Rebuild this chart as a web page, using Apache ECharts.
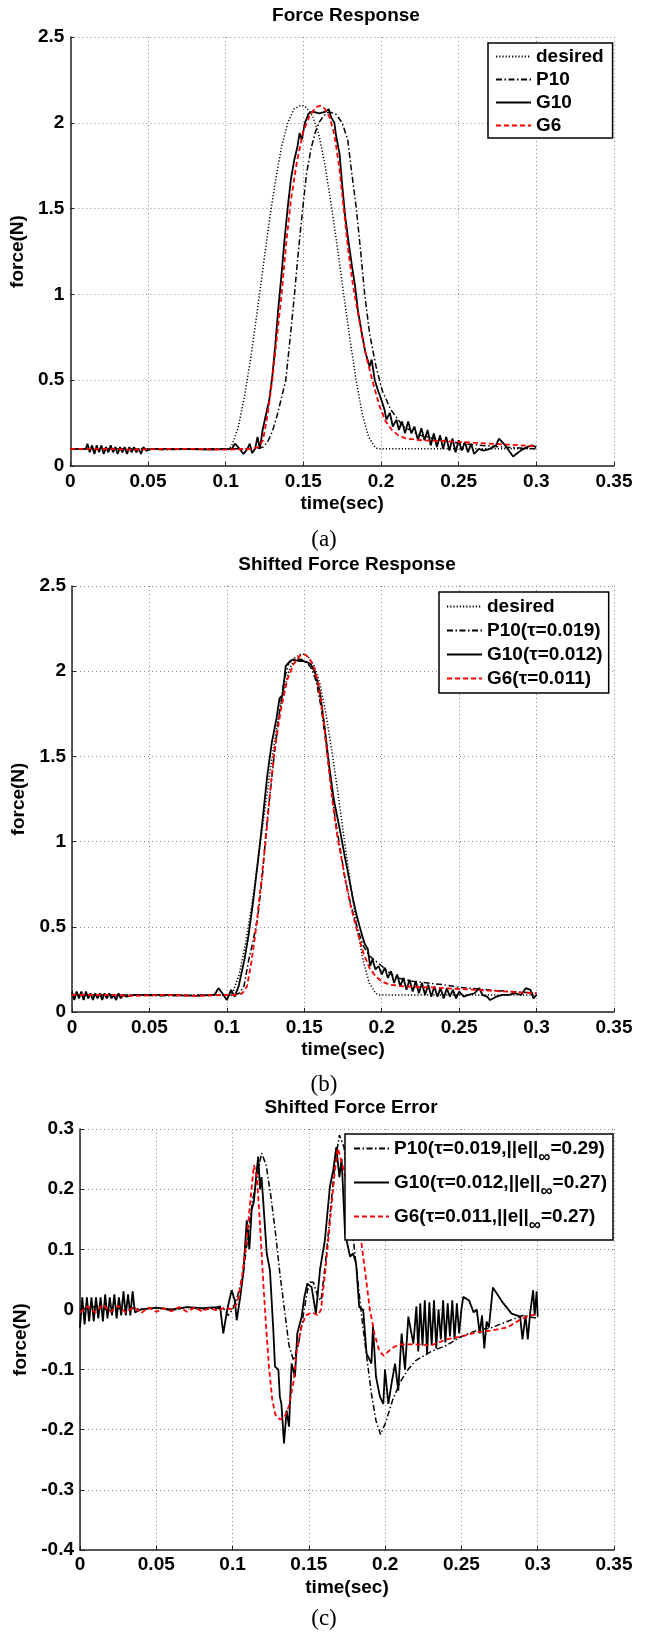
<!DOCTYPE html>
<html>
<head>
<meta charset="utf-8">
<script src="https://cdn.jsdelivr.net/npm/echarts/dist/echarts.min.js"></script>
<style>
  html, body { margin: 0; padding: 0; background: #fff; }
  #chart { width: 659px; height: 1634px; }
</style>
</head>
<body>
<div id="chart"></div>
<script>
// axis ticks
const timeTicks = { min: 0, max: 0.35, interval: 0.05 }
const forceTicks = { min: 0, max: 2.5, interval: 0.5 }
const errorTicks = { min: -0.4, max: 0.3, interval: 0.1 }

// (a) force response, [time, force]
const respDesired = [[0,0.1],[0.1,0.1],[0.102,0.1],[0.104,0.12],[0.108,0.22],[0.112,0.40],[0.116,0.62],[0.120,0.88],[0.124,1.15],[0.128,1.42],[0.132,1.66],[0.136,1.86],[0.140,2.00],[0.144,2.08],[0.148,2.10],[0.150,2.10],[0.152,2.09],[0.156,2.04],[0.160,1.93],[0.164,1.75],[0.168,1.52],[0.172,1.27],[0.176,1.00],[0.180,0.74],[0.184,0.50],[0.188,0.30],[0.192,0.17],[0.196,0.11],[0.198,0.10],[0.3,0.1]]
const respP10 = [[0,0.1],[0.03,0.1],[0.06,0.095],[0.09,0.1],[0.12,0.1],[0.124,0.11],[0.127,0.14],[0.130,0.2],[0.1333,0.3],[0.136,0.4],[0.1387,0.5],[0.141,0.7],[0.144,0.97],[0.146,1.17],[0.148,1.36],[0.150,1.53],[0.152,1.70],[0.155,1.85],[0.1576,1.94],[0.160,2.0],[0.163,2.04],[0.1657,2.06],[0.168,2.06],[0.171,2.05],[0.175,2.0],[0.1786,1.9],[0.181,1.72],[0.184,1.51],[0.1868,1.26],[0.1895,1.0],[0.1927,0.77],[0.1968,0.58],[0.2008,0.44],[0.2062,0.33],[0.2143,0.23],[0.225,0.18],[0.2386,0.15],[0.252,0.13],[0.279,0.11],[0.3,0.1]]
const respG10 = [[0,0.1],[0.01,0.1],[0.011,0.13],[0.0125,0.08],[0.014,0.12],[0.0155,0.07],[0.017,0.12],[0.0185,0.08],[0.02,0.12],[0.0215,0.07],[0.023,0.11],[0.0245,0.08],[0.026,0.12],[0.0275,0.08],[0.029,0.11],[0.0305,0.07],[0.032,0.11],[0.0335,0.08],[0.035,0.11],[0.0365,0.07],[0.038,0.11],[0.0395,0.08],[0.041,0.11],[0.0425,0.08],[0.044,0.1],[0.0455,0.07],[0.047,0.11],[0.049,0.09],[0.052,0.1],[0.07,0.1],[0.09,0.095],[0.104,0.1],[0.106,0.13],[0.109,0.1],[0.1115,0.07],[0.114,0.1],[0.1155,0.13],[0.117,0.075],[0.119,0.1],[0.1205,0.17],[0.122,0.1],[0.1238,0.21],[0.1257,0.29],[0.128,0.38],[0.130,0.52],[0.1319,0.70],[0.1338,0.91],[0.136,1.12],[0.1379,1.32],[0.140,1.51],[0.142,1.67],[0.1441,1.78],[0.1462,1.86],[0.1476,1.94],[0.149,1.90],[0.151,2.0],[0.1535,2.055],[0.156,2.065],[0.1603,2.055],[0.1644,2.065],[0.1663,2.08],[0.168,2.03],[0.170,2.0],[0.171,1.93],[0.1733,1.82],[0.1751,1.63],[0.177,1.45],[0.1792,1.30],[0.1814,1.16],[0.1833,1.05],[0.1851,0.91],[0.1873,0.79],[0.190,0.66],[0.1927,0.58],[0.194,0.62],[0.196,0.50],[0.1981,0.44],[0.2003,0.385],[0.2022,0.33],[0.2035,0.27],[0.2057,0.31],[0.2076,0.23],[0.210,0.27],[0.2115,0.21],[0.2135,0.26],[0.2155,0.19],[0.2175,0.26],[0.2195,0.19],[0.2215,0.23],[0.2238,0.15],[0.226,0.22],[0.228,0.15],[0.230,0.21],[0.232,0.12],[0.234,0.19],[0.236,0.11],[0.238,0.18],[0.240,0.10],[0.242,0.17],[0.244,0.09],[0.246,0.16],[0.248,0.08],[0.250,0.15],[0.252,0.09],[0.254,0.14],[0.256,0.08],[0.258,0.13],[0.260,0.07],[0.263,0.1],[0.266,0.09],[0.27,0.1],[0.274,0.12],[0.276,0.16],[0.28,0.12],[0.285,0.055],[0.29,0.09],[0.294,0.11],[0.297,0.12],[0.3,0.11]]
const respG6 = [[0,0.1],[0.02,0.1],[0.04,0.095],[0.06,0.1],[0.08,0.1],[0.1,0.095],[0.116,0.1],[0.121,0.11],[0.124,0.15],[0.127,0.30],[0.130,0.50],[0.133,0.75],[0.136,1.00],[0.139,1.30],[0.142,1.55],[0.146,1.78],[0.150,1.95],[0.154,2.04],[0.158,2.09],[0.161,2.10],[0.164,2.08],[0.167,2.03],[0.170,1.93],[0.173,1.75],[0.176,1.50],[0.179,1.25],[0.182,1.05],[0.185,0.90],[0.188,0.75],[0.191,0.62],[0.195,0.48],[0.199,0.35],[0.203,0.26],[0.207,0.21],[0.211,0.18],[0.216,0.16],[0.226,0.15],[0.241,0.145],[0.261,0.135],[0.281,0.125],[0.3,0.115]]

// (b) shifted force response
const shiftP10 = [[0,0.1],[0.03,0.1],[0.06,0.095],[0.09,0.1],[0.105,0.1],[0.108,0.11],[0.111,0.15],[0.114,0.3],[0.117,0.42],[0.120,0.56],[0.123,0.8],[0.125,1.03],[0.128,1.29],[0.131,1.54],[0.134,1.76],[0.137,1.95],[0.140,2.05],[0.144,2.07],[0.148,2.07],[0.152,2.05],[0.155,2.01],[0.158,1.93],[0.161,1.78],[0.164,1.58],[0.167,1.36],[0.170,1.13],[0.173,0.97],[0.176,0.8],[0.180,0.63],[0.184,0.50],[0.188,0.39],[0.192,0.33],[0.196,0.30],[0.2,0.27],[0.205,0.23],[0.21,0.2],[0.215,0.19],[0.22,0.18],[0.23,0.17],[0.24,0.16],[0.25,0.145],[0.275,0.125],[0.3,0.11]]
const shiftG10 = [[0,0.12],[0.0015,0.07],[0.003,0.12],[0.0045,0.08],[0.006,0.12],[0.0075,0.07],[0.009,0.12],[0.0105,0.08],[0.012,0.11],[0.0135,0.07],[0.015,0.11],[0.0165,0.08],[0.018,0.11],[0.0195,0.07],[0.021,0.11],[0.0225,0.08],[0.024,0.11],[0.0255,0.08],[0.027,0.1],[0.0285,0.07],[0.03,0.11],[0.0315,0.08],[0.033,0.1],[0.035,0.09],[0.04,0.1],[0.06,0.1],[0.08,0.095],[0.092,0.1],[0.0946,0.14],[0.097,0.11],[0.1,0.07],[0.1027,0.13],[0.105,0.09],[0.1076,0.15],[0.1095,0.23],[0.1114,0.31],[0.114,0.45],[0.117,0.65],[0.12,0.88],[0.123,1.12],[0.126,1.38],[0.129,1.58],[0.132,1.72],[0.134,1.84],[0.136,1.86],[0.138,2.03],[0.1408,2.06],[0.143,2.07],[0.146,2.06],[0.149,2.06],[0.1525,2.05],[0.1543,2.04],[0.157,1.99],[0.160,1.88],[0.163,1.68],[0.166,1.45],[0.169,1.25],[0.1734,1.05],[0.176,0.92],[0.179,0.78],[0.1815,0.66],[0.184,0.56],[0.187,0.46],[0.189,0.40],[0.191,0.37],[0.1925,0.27],[0.194,0.31],[0.196,0.25],[0.198,0.27],[0.2,0.22],[0.202,0.26],[0.204,0.2],[0.206,0.24],[0.208,0.17],[0.21,0.22],[0.212,0.15],[0.214,0.2],[0.216,0.13],[0.218,0.19],[0.22,0.12],[0.222,0.18],[0.224,0.11],[0.226,0.17],[0.228,0.1],[0.23,0.16],[0.232,0.09],[0.234,0.15],[0.236,0.09],[0.238,0.14],[0.24,0.08],[0.242,0.14],[0.244,0.09],[0.246,0.13],[0.248,0.08],[0.25,0.12],[0.253,0.09],[0.256,0.1],[0.26,0.11],[0.263,0.14],[0.265,0.1],[0.268,0.09],[0.27,0.07],[0.274,0.09],[0.278,0.1],[0.282,0.1],[0.286,0.11],[0.29,0.1],[0.293,0.14],[0.296,0.13],[0.298,0.08],[0.3,0.1]]
const shiftG6 = [[0,0.1],[0.02,0.1],[0.04,0.095],[0.06,0.1],[0.08,0.095],[0.1,0.1],[0.105,0.1],[0.110,0.11],[0.113,0.15],[0.116,0.30],[0.119,0.50],[0.122,0.75],[0.125,1.00],[0.128,1.30],[0.131,1.55],[0.135,1.78],[0.139,1.95],[0.143,2.04],[0.147,2.09],[0.150,2.10],[0.153,2.08],[0.156,2.03],[0.159,1.93],[0.162,1.75],[0.165,1.50],[0.168,1.25],[0.171,1.05],[0.174,0.90],[0.177,0.75],[0.180,0.62],[0.184,0.48],[0.188,0.35],[0.192,0.26],[0.196,0.21],[0.200,0.18],[0.205,0.16],[0.215,0.15],[0.230,0.145],[0.250,0.135],[0.270,0.125],[0.290,0.115],[0.3,0.11]]

// (c) shifted force error
const errP10 = [[0,0],[0.01,0.005],[0.02,-0.002],[0.03,0.004],[0.04,0.0],[0.05,0.003],[0.06,-0.002],[0.07,0.004],[0.08,0.0],[0.09,0.002],[0.095,0.0],[0.097,-0.01],[0.1,0.0],[0.103,0.02],[0.107,0.06],[0.11,0.12],[0.113,0.18],[0.116,0.22],[0.119,0.26],[0.122,0.24],[0.125,0.19],[0.128,0.13],[0.131,0.06],[0.134,0.0],[0.137,-0.06],[0.14,-0.085],[0.143,-0.06],[0.147,0.0],[0.15,0.045],[0.153,0.045],[0.156,0.02],[0.158,0.015],[0.161,0.08],[0.164,0.16],[0.167,0.24],[0.170,0.29],[0.173,0.27],[0.176,0.2],[0.179,0.12],[0.182,0.05],[0.185,-0.02],[0.188,-0.08],[0.191,-0.14],[0.194,-0.185],[0.197,-0.208],[0.2,-0.19],[0.205,-0.15],[0.21,-0.12],[0.215,-0.1],[0.22,-0.085],[0.23,-0.07],[0.24,-0.06],[0.25,-0.045],[0.26,-0.035],[0.27,-0.03],[0.28,-0.02],[0.29,-0.01],[0.3,-0.015]]
const errG10 = [[0,-0.03],[0.0015,0.02],[0.003,-0.025],[0.0045,0.02],[0.006,-0.02],[0.0075,0.02],[0.009,-0.02],[0.0105,0.02],[0.012,-0.015],[0.0135,0.02],[0.015,-0.02],[0.0165,0.025],[0.018,-0.015],[0.0195,0.02],[0.021,-0.01],[0.0225,0.025],[0.024,-0.015],[0.0255,0.02],[0.027,-0.01],[0.0285,0.03],[0.03,-0.01],[0.0315,0.025],[0.033,-0.01],[0.0345,0.03],[0.036,-0.005],[0.04,0.0],[0.05,0.003],[0.06,0.0],[0.07,0.004],[0.08,0.002],[0.09,0.004],[0.0918,0.005],[0.0939,-0.04],[0.0965,0.0],[0.0994,0.032],[0.1015,0.015],[0.1027,-0.018],[0.105,0.02],[0.107,0.06],[0.1093,0.148],[0.111,0.1],[0.1125,0.165],[0.114,0.18],[0.1158,0.23],[0.1168,0.254],[0.118,0.2],[0.119,0.22],[0.1202,0.176],[0.1224,0.093],[0.1245,0.065],[0.1267,-0.034],[0.1278,-0.095],[0.13,-0.1],[0.131,-0.145],[0.132,-0.157],[0.1337,-0.223],[0.1354,-0.168],[0.137,-0.195],[0.1387,-0.09],[0.1409,-0.112],[0.1424,-0.04],[0.1453,-0.012],[0.147,0.02],[0.149,0.043],[0.1518,0.037],[0.1546,-0.007],[0.1557,0.022],[0.1573,0.066],[0.1605,0.115],[0.1638,0.204],[0.166,0.232],[0.168,0.27],[0.17,0.22],[0.1715,0.25],[0.1737,0.127],[0.177,0.088],[0.179,0.093],[0.181,0.076],[0.183,0.004],[0.1856,-0.001],[0.1878,-0.073],[0.191,-0.09],[0.192,-0.029],[0.194,-0.112],[0.1966,-0.145],[0.1988,-0.157],[0.1999,-0.1],[0.2021,-0.157],[0.2042,-0.123],[0.2065,-0.09],[0.2086,-0.135],[0.2108,-0.04],[0.213,-0.1],[0.2152,-0.012],[0.2185,-0.057],[0.2205,0.005],[0.2217,-0.07],[0.223,0.01],[0.2245,-0.06],[0.226,0.015],[0.2275,-0.075],[0.229,0.012],[0.2305,-0.06],[0.232,0.015],[0.2335,-0.065],[0.235,0.0],[0.2365,-0.05],[0.238,0.015],[0.2395,-0.055],[0.241,0.01],[0.2425,-0.045],[0.244,0.015],[0.2455,-0.05],[0.247,0.01],[0.2485,-0.04],[0.25,0.0],[0.2512,0.021],[0.255,0.015],[0.258,-0.005],[0.26,0.0],[0.262,-0.04],[0.2635,-0.01],[0.265,-0.065],[0.2665,-0.02],[0.268,-0.03],[0.2706,0.0365],[0.2775,0.01],[0.2829,-0.007],[0.2885,-0.012],[0.29,-0.05],[0.292,-0.01],[0.2935,-0.05],[0.295,-0.007],[0.297,0.032],[0.298,-0.01],[0.2993,0.03],[0.3,-0.012]]
const errG6 = [[0,-0.005],[0.005,0.005],[0.01,-0.005],[0.015,0.008],[0.02,-0.004],[0.025,0.006],[0.03,-0.005],[0.035,0.004],[0.04,-0.006],[0.045,0.003],[0.05,-0.004],[0.055,0.002],[0.06,-0.003],[0.065,0.004],[0.07,-0.004],[0.075,0.003],[0.08,-0.003],[0.085,0.002],[0.09,-0.002],[0.095,0.003],[0.1,0.0],[0.103,0.01],[0.106,0.05],[0.109,0.11],[0.112,0.19],[0.114,0.24],[0.116,0.22],[0.118,0.14],[0.120,0.05],[0.122,-0.03],[0.124,-0.1],[0.126,-0.15],[0.128,-0.175],[0.131,-0.183],[0.134,-0.18],[0.137,-0.16],[0.14,-0.12],[0.142,-0.07],[0.145,-0.03],[0.148,-0.01],[0.152,-0.005],[0.156,-0.01],[0.158,0.0],[0.161,0.07],[0.164,0.15],[0.167,0.23],[0.169,0.268],[0.172,0.24],[0.175,0.21],[0.178,0.19],[0.181,0.165],[0.184,0.12],[0.187,0.06],[0.19,0.0],[0.193,-0.04],[0.196,-0.068],[0.199,-0.077],[0.202,-0.07],[0.206,-0.062],[0.21,-0.058],[0.22,-0.058],[0.23,-0.06],[0.24,-0.05],[0.25,-0.045],[0.26,-0.038],[0.27,-0.035],[0.28,-0.03],[0.29,-0.015],[0.295,-0.01],[0.3,-0.008]]

const FONT = '"Liberation Sans", Arial, Helvetica, sans-serif'
const SERIF = '"Liberation Serif", "Times New Roman", serif'

// line styles, MATLAB look
const styleDesired = { color: '#000', width: 1.5, type: [1.2, 2] }
const styleP10 = { color: '#000', width: 1.5, type: [6, 2.5, 1.5, 2.5] }
const styleG10 = { color: '#000', width: 1.8, type: 'solid' }
const styleG6 = { color: '#ff0000', width: 1.8, type: [5, 3] }

let grids = [
  { left: 70, top: 37, width: 544, height: 429 },
  { left: 72, top: 586, width: 542, height: 426 },
  { left: 80, top: 1129, width: 534, height: 421 }
]

function xAxis(i, margin) {
  return {
    type: 'value', gridIndex: i,
    min: timeTicks.min, max: timeTicks.max, interval: timeTicks.interval,
    name: 'time(sec)', nameLocation: 'middle', nameGap: 28,
    nameTextStyle: { fontFamily: FONT, fontSize: 19, fontWeight: 'bold', color: '#000' },
    axisLine: { show: true, onZero: false, lineStyle: { color: '#222', width: 1.5 } },
    axisTick: { show: true, inside: true, length: 4, lineStyle: { color: '#222' } },
    axisLabel: { margin: margin, fontFamily: FONT, fontSize: 19, fontWeight: 'bold', color: '#000' },
    splitLine: { show: true, lineStyle: { color: '#888', width: 1, type: [1, 3] } }
  }
}

function yAxis(i, ticks, gap) {
  return {
    type: 'value', gridIndex: i,
    min: ticks.min, max: ticks.max, interval: ticks.interval,
    name: 'force(N)', nameLocation: 'middle', nameGap: gap,
    nameTextStyle: { fontFamily: FONT, fontSize: 19, fontWeight: 'bold', color: '#000' },
    axisLine: { show: true, onZero: false, lineStyle: { color: '#222', width: 1.5 } },
    axisTick: { show: true, inside: true, length: 4, lineStyle: { color: '#222' } },
    axisLabel: { margin: 6, fontFamily: FONT, fontSize: 19, fontWeight: 'bold', color: '#000' },
    splitLine: { show: true, lineStyle: { color: '#888', width: 1, type: [1, 3] } }
  }
}

function line(name, data, style, i) {
  return {
    type: 'line', name: name, data: data, xAxisIndex: i, yAxisIndex: i,
    symbol: 'none', silent: true, animation: false,
    lineStyle: style, itemStyle: { color: style.color }
  }
}

// legend: line samples only, no symbol
let legendBase = {
  orient: 'vertical', selectedMode: false,
  backgroundColor: '#fff', borderColor: '#000', borderWidth: 1.5,
  itemWidth: 35, itemHeight: 14,
  itemStyle: { opacity: 0 },
  textStyle: { fontFamily: FONT, fontSize: 19, fontWeight: 'bold', color: '#000' }
}

let errNames = ['P10(τ=0.019,||e||∞=0.29)', 'G10(τ=0.012,||e||∞=0.27)', 'G6(τ=0.011,||e||∞=0.27)']

function caption(text, x, y, font) {
  return { type: 'text', x: x, y: y, style: { text: text, font: font, fill: '#000', align: 'center', verticalAlign: 'middle' } }
}

let option = {
  animation: false,
  backgroundColor: '#fff',
  grid: grids,
  xAxis: [xAxis(0, 6), xAxis(1, 6), xAxis(2, 5)],
  yAxis: [yAxis(0, forceTicks, 30), yAxis(1, forceTicks, 30), yAxis(2, errorTicks, 35)],
  legend: [
    Object.assign({}, legendBase, {
      left: 488, top: 43, padding: [4, 9, 3, 7], itemGap: 4,
      data: ['desired', 'P10', 'G10', 'G6']
    }),
    Object.assign({}, legendBase, {
      left: 439, top: 592, padding: [5, 6, 5, 7], itemGap: 5,
      data: ['desired', 'P10(τ=0.019)', 'G10(τ=0.012)', 'G6(τ=0.011)']
    }),
    Object.assign({}, legendBase, {
      left: 345, top: 1134, padding: [5, 6, 6, 8], itemGap: 7,
      data: errNames,
      formatter: function (name) {
        let k = name.indexOf('∞')
        return '{a|' + name.slice(0, k) + '}{s|∞}{a|' + name.slice(k + 1) + '}'
      },
      textStyle: {
        fontFamily: FONT, fontSize: 19, fontWeight: 'bold', color: '#000',
        rich: {
          a: { fontFamily: FONT, fontSize: 19, fontWeight: 'bold', color: '#000' },
          s: { fontFamily: FONT, fontSize: 17, fontWeight: 'bold', color: '#000', padding: [18, 0, 0, 0] }
        }
      }
    })
  ],
  graphic: [
    caption('Force Response', 346, 16, 'bold 19px ' + FONT),
    caption('Shifted Force Response', 347, 565, 'bold 19px ' + FONT),
    caption('Shifted Force Error', 351, 1108, 'bold 19px ' + FONT),
    caption('(a)', 324, 540, '23px ' + SERIF),
    caption('(b)', 324, 1085, '23px ' + SERIF),
    caption('(c)', 324, 1619, '23px ' + SERIF)
  ],
  series: [
    line('desired', respDesired, styleDesired, 0),
    line('P10', respP10, styleP10, 0),
    line('G10', respG10, styleG10, 0),
    line('G6', respG6, styleG6, 0),
    line('desired', respDesired, styleDesired, 1),
    line('P10(τ=0.019)', shiftP10, styleP10, 1),
    line('G10(τ=0.012)', shiftG10, styleG10, 1),
    line('G6(τ=0.011)', shiftG6, styleG6, 1),
    line(errNames[0], errP10, styleP10, 2),
    line(errNames[1], errG10, styleG10, 2),
    line(errNames[2], errG6, styleG6, 2)
  ]
}

let chart = echarts.init(document.getElementById('chart'), null, { renderer: 'canvas' })
chart.setOption(option)
</script>
</body>
</html>
